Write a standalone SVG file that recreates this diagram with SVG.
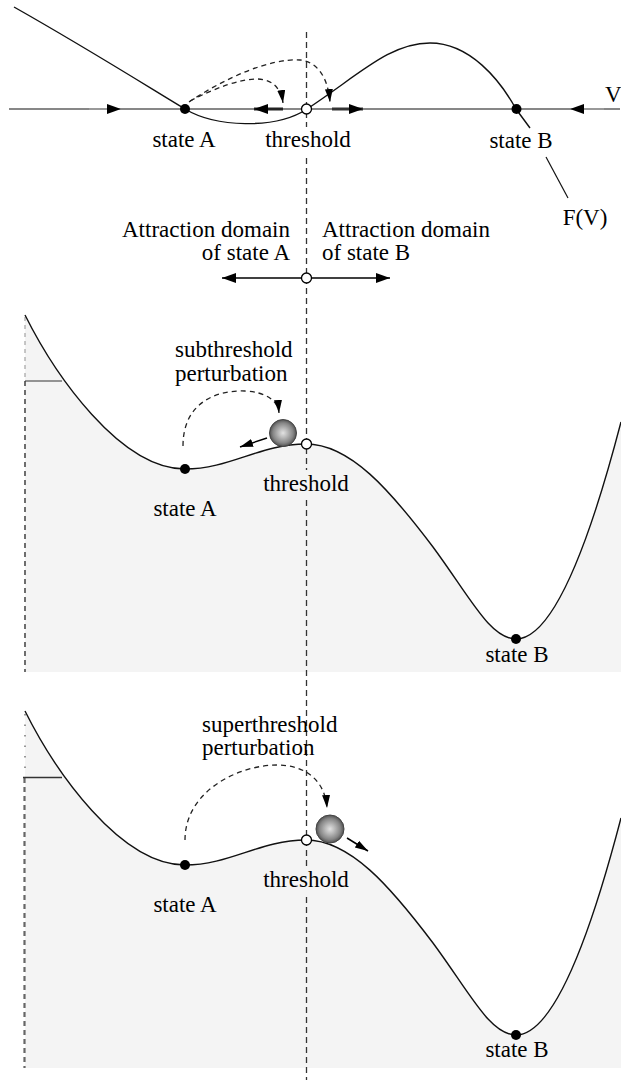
<svg xmlns="http://www.w3.org/2000/svg" width="621" height="1082" viewBox="0 0 621 1082">
<style>
text{font-family:"Liberation Serif","Times New Roman",serif;font-size:23px;fill:#000}
.c{fill:none;stroke:#111;stroke-width:1.4}
.ax{stroke:#111;stroke-width:1.2;fill:none}
.dash{fill:none;stroke:#222;stroke-width:1.3;stroke-dasharray:5,4}
.vd{stroke:#333;stroke-width:1.3;stroke-dasharray:6,4;fill:none}
.dot{fill:#000}
.open{fill:#fff;stroke:#000;stroke-width:1.3}
.bg{fill:#f4f4f4;stroke:none}
.ball{fill:url(#ballg);stroke:#444;stroke-width:1}
</style>
<defs>
<marker id="ah" markerUnits="userSpaceOnUse" markerWidth="16" markerHeight="12" refX="14" refY="5" orient="auto"><path d="M0,0 L14,5 L0,10 z" fill="#000"/></marker>
<marker id="ahs" markerUnits="userSpaceOnUse" markerWidth="15" markerHeight="9" refX="13" refY="4" orient="auto"><path d="M0,0 L13,4 L0,8 z" fill="#000"/></marker>
<radialGradient id="ballg" cx="0.5" cy="0.5" r="0.5">
<stop offset="0" stop-color="#e2e2e2"/>
<stop offset="0.35" stop-color="#b8b8b8"/>
<stop offset="0.75" stop-color="#858585"/>
<stop offset="1" stop-color="#505050"/>
</radialGradient>
<path id="pot" d="M25,315 C55,375 120,469 185,469 C230,469 260,444 306,444 C350,444 390,490 433,547 C470,597 490,639 516,639 C550,639 585,560 621,422"/>
</defs>

<!-- backgrounds -->
<g id="panel2-bg">
<path class="bg" d="M25,315 C55,375 120,469 185,469 C230,469 260,444 306,444 C350,444 390,490 433,547 C470,597 490,639 516,639 C550,639 585,560 621,422 L621,672 L25,672 Z"/>
<line x1="25" y1="317" x2="25" y2="381" stroke="#aaa" stroke-width="1.3" stroke-dasharray="4,4"/>
<line x1="25" y1="381" x2="25" y2="672" stroke="#555" stroke-width="1.7" stroke-dasharray="5,4"/>
<line x1="25" y1="381" x2="62" y2="381" stroke="#333" stroke-width="1.2"/>
</g>
<g id="panel3-bg" transform="translate(0,396)">
<path class="bg" d="M25,315 C55,375 120,469 185,469 C230,469 260,444 306,444 C350,444 390,490 433,547 C470,597 490,639 516,639 C550,639 585,560 621,422 L621,672 L25,672 Z"/>
<line x1="25" y1="318" x2="25" y2="381" stroke="#777" stroke-width="1.5" stroke-dasharray="1.5,9"/>
<line x1="24.5" y1="382" x2="24.5" y2="672" stroke="#666" stroke-width="2.2" stroke-dasharray="5,4"/>
<line x1="23" y1="381.5" x2="62" y2="381.5" stroke="#333" stroke-width="1.7"/>
</g>

<!-- threshold vertical dashed line -->
<g id="threshold-line">
<line class="vd" x1="306.5" y1="32" x2="306.5" y2="127"/>
<line class="vd" x1="306.5" y1="158" x2="306.5" y2="470"/>
<line class="vd" x1="306.5" y1="500" x2="306.5" y2="866"/>
<line class="vd" x1="306.5" y1="897" x2="306.5" y2="1080"/>
</g>

<!-- top panel -->
<g id="top-panel">
<line class="ax" x1="9" y1="109" x2="620" y2="109"/>
<path class="c" d="M14,7 C90,50 150,88 185,109 C215,127 275,130 307,109 C360,74 390,43 430,43 C470,43 500,80 516,109 L530,128"/>
<line x1="546" y1="157" x2="568" y2="198" stroke="#111" stroke-width="1.2"/>
</g>

<g id="connectors">
<line x1="89" y1="109" x2="121" y2="109" stroke="#999" stroke-width="2" marker-end="url(#ah)"/>
<line x1="604" y1="109" x2="570" y2="109" stroke="#999" stroke-width="2" marker-end="url(#ah)"/>
<line x1="283" y1="109" x2="254" y2="109" stroke="#222" stroke-width="3" marker-end="url(#ah)"/>
<line x1="332" y1="109" x2="363" y2="109" stroke="#333" stroke-width="3" marker-end="url(#ah)"/>
<path class="dash" d="M190,101 C215,88 240,79 257,79 C272,79 281,88 283,103" marker-end="url(#ahs)"/>
<path class="dash" d="M189,102 C225,78 270,58 300,60 C318,62 328,78 330,102" marker-end="url(#ahs)"/>
<line x1="301" y1="278" x2="222" y2="278" stroke="#000" stroke-width="1.4" marker-end="url(#ah)"/>
<line x1="311" y1="278" x2="390" y2="278" stroke="#000" stroke-width="1.4" marker-end="url(#ah)"/>
<path class="dash" d="M183,446 C183,400 220,390 245,391 C265,392 278,400 279,413" marker-end="url(#ahs)"/>
<line x1="267" y1="438" x2="240" y2="447" stroke="#000" stroke-width="1.5" marker-end="url(#ahs)"/>
<path class="dash" d="M185,840 C185,790 240,765 277,765 C305,765 325,780 327,808" marker-end="url(#ahs)"/>
<line x1="347" y1="838" x2="368" y2="851" stroke="#000" stroke-width="1.5" marker-end="url(#ahs)"/>
</g>

<g id="panel2-curve"><use href="#pot" class="c"/></g>
<g id="panel3-curve" transform="translate(0,396)"><use href="#pot" class="c"/></g>

<!-- nodes -->
<g id="top-stateA"><circle class="dot" cx="185" cy="109" r="5"/><text x="184" y="147" text-anchor="middle">state A</text></g>
<g id="top-threshold"><circle class="open" cx="306.5" cy="109" r="5"/><text x="308" y="147" text-anchor="middle">threshold</text></g>
<g id="top-stateB"><circle class="dot" cx="516.5" cy="109" r="5"/><text x="521" y="148" text-anchor="middle">state B</text></g>
<g id="label-V"><text x="605" y="102">V</text></g>
<g id="label-FV"><text x="585" y="225" text-anchor="middle">F(V)</text></g>

<g id="domains">
<text x="290" y="237" text-anchor="end">Attraction domain</text>
<text x="290" y="260" text-anchor="end">of state A</text>
<text x="322" y="237">Attraction domain</text>
<text x="322" y="260">of state B</text>
<circle class="open" cx="306.5" cy="278" r="5"/>
</g>

<g id="p2-label"><text x="175" y="357">subthreshold</text><text x="175" y="381">perturbation</text></g>
<g id="p2-ball"><circle class="ball" cx="283" cy="433" r="13.5"/></g>
<g id="p2-stateA"><circle class="dot" cx="185" cy="469" r="5"/><text x="185" y="516" text-anchor="middle">state A</text></g>
<g id="p2-threshold"><circle class="open" cx="306.5" cy="444" r="5"/><text x="306" y="491" text-anchor="middle">threshold</text></g>
<g id="p2-stateB"><circle class="dot" cx="516" cy="639" r="5"/><text x="517" y="662" text-anchor="middle">state B</text></g>

<g id="p3-label"><text x="202" y="732">superthreshold</text><text x="202" y="755">perturbation</text></g>
<g id="p3-ball"><circle class="ball" cx="330" cy="829" r="14"/></g>
<g id="p3-stateA"><circle class="dot" cx="185" cy="865" r="5"/><text x="185" y="912" text-anchor="middle">state A</text></g>
<g id="p3-threshold"><circle class="open" cx="306.5" cy="840" r="5"/><text x="306" y="887" text-anchor="middle">threshold</text></g>
<g id="p3-stateB"><circle class="dot" cx="516" cy="1035" r="5"/><text x="517" y="1057" text-anchor="middle">state B</text></g>
</svg>
